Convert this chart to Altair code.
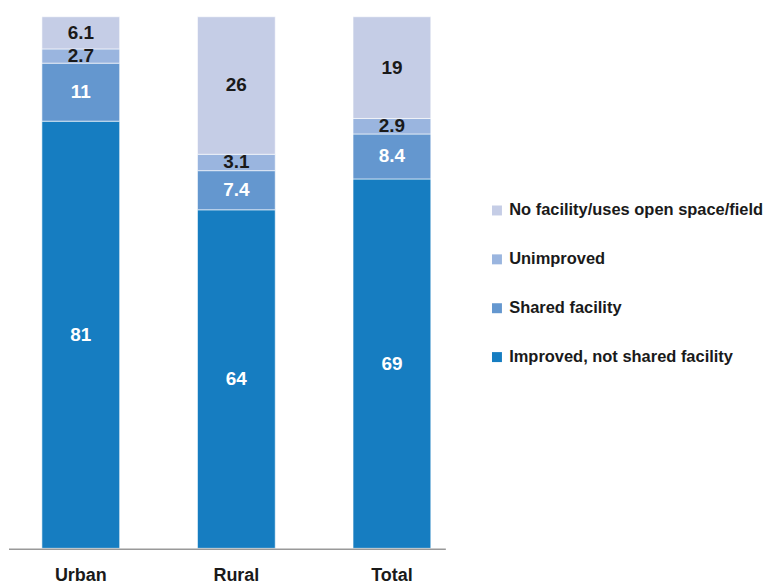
import altair as alt
import pandas as pd

categories = ["Urban", "Rural", "Total"]
series = ["Improved, not shared facility", "Shared facility", "Unimproved", "No facility/uses open space/field"]
improved = [81, 64, 69]
shared = [11, 7.4, 8.4]
unimproved = [2.7, 3.1, 2.9]
no_facility = [6.1, 26, 19]
labels = {
    "Improved, not shared facility": ["81", "64", "69"],
    "Shared facility": ["11", "7.4", "8.4"],
    "Unimproved": ["2.7", "3.1", "2.9"],
    "No facility/uses open space/field": ["6.1", "26", "19"],
}
colors = ["#167dc1", "#6497cf", "#9ab5df", "#c5cde6"]
label_colors = ["#ffffff", "#ffffff", "#1a1a1a", "#1a1a1a"]

rows = []
for si, (s, vals) in enumerate(zip(series, [improved, shared, unimproved, no_facility])):
    for ci, c in enumerate(categories):
        rows.append({"cat": c, "series": s, "value": vals[ci], "order": si,
                     "label": labels[s][ci], "lc": label_colors[si]})
df = pd.DataFrame(rows)

FONT = "Liberation Sans"
W, H = 433, 533

xenc = alt.X("cat:N", sort=categories,
             scale=alt.Scale(paddingInner=0.5, paddingOuter=0.138, align=0.65),
             axis=alt.Axis(title=None, labelAngle=0, domain=False, ticks=False,
                           labelFont=FONT, labelFontSize=18, labelFontWeight="bold",
                           labelColor="#1a1a1a", labelPadding=18))

base = alt.Chart(df)

bars = base.mark_bar(stroke="white", strokeWidth=0.6).encode(
    x=xenc,
    y=alt.Y("value:Q", stack="normalize", axis=None, scale=alt.Scale(domain=[0, 1], nice=False)),
    color=alt.Color("series:N", sort=series[::-1],
                    scale=alt.Scale(domain=series[::-1], range=colors[::-1]),
                    legend=alt.Legend(title=None, orient="none", legendX=476, legendY=186,
                                      symbolType="square", symbolSize=100, symbolStrokeWidth=0,
                                      labelFont=FONT, labelFontSize=16.5, labelFontWeight="bold",
                                      labelColor="#1a1a1a", rowPadding=32, labelOffset=4,
                                      labelLimit=400)),
    order=alt.Order("order:Q"),
)

text = base.transform_stack(
    stack="value", groupby=["cat"], as_=["y0", "y1"], offset="normalize",
    sort=[alt.SortField("order", order="ascending")]
).transform_calculate(mid="(datum.y0 + datum.y1) / 2").mark_text(
    font=FONT, fontSize=19, fontWeight="bold", baseline="middle"
).encode(
    x=alt.X("cat:N", sort=categories),
    y=alt.Y("mid:Q"),
    text="label:N",
    color=alt.Color("lc:N", scale=None),
)

axis_line = alt.Chart(pd.DataFrame({"a": [0]})).mark_rule(color="#999999", strokeWidth=1.5).encode(
    x=alt.value(-5), x2=alt.value(W), y=alt.value(H + 1)
)

chart = alt.layer(bars, text, axis_line).properties(
    width=W, height=H, padding={"left": 0, "top": 7, "right": 0, "bottom": 0}
).configure(background="white").configure_view(stroke=None, strokeWidth=0)

chart.save("out.html", embed_options={"renderer": "svg", "actions": False})
